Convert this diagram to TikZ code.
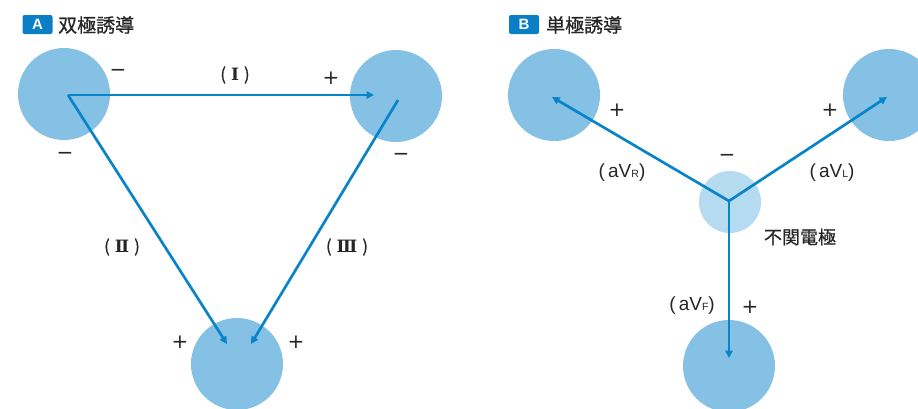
\documentclass[tikz,border=0pt]{standalone}
\usepackage{fontspec}
\setmainfont{Noto Sans CJK JP}
\newfontfamily\jp{Noto Sans CJK JP}
\newfontfamily\jpm[FakeBold=0.7]{Noto Sans CJK JP}
\newfontfamily\lat{Liberation Sans}
\newfontfamily\ser{DejaVu Serif}
\newfontfamily\sym{DejaVu Sans}
\usetikzlibrary{arrows.meta}
\definecolor{elec}{HTML}{84C1E5}
\definecolor{elecl}{HTML}{B4DBF0}
\definecolor{lead}{HTML}{0A84C9}
\definecolor{badge}{HTML}{0A7FC6}
\tikzset{
  electrode/.style={circle,fill=elec,minimum size=92pt,inner sep=0pt},
  refelec/.style={circle,fill=elecl,minimum size=62pt,inner sep=0pt},
  leadarrow/.style={draw=lead,line width=2.7pt,-{Triangle[length=7.5pt,width=7.5pt]}},
  roman/.style={font=\fontsize{17}{17}\selectfont\jpm,text=black!85,inner sep=0pt},
  lbl/.style={font=\fontsize{19}{19}\selectfont\lat,text=black!85,inner sep=0pt},
  sign/.style={font=\fontsize{20}{20}\selectfont\sym,text=black!85,inner sep=0pt},
  head/.style={font=\fontsize{19}{19}\selectfont\jpm,text=black!85,inner sep=0pt,anchor=west},
  badgebox/.style={fill=badge,rounded corners=2pt,minimum width=30pt,minimum height=19pt,inner sep=0pt,text=white,font=\fontsize{15}{15}\selectfont\bfseries\lat}
}
\newcommand{\subsc}[1]{{\fontsize{10.5}{10.5}\selectfont #1}}
\newcommand{\rn}[1]{\hspace{5pt}{\ser\bfseries #1}\hspace{5pt}}
\begin{document}
\begin{tikzpicture}[x=1pt,y=-1pt]
\useasboundingbox (0,0) rectangle (918,408);
% ---------- Panel A ----------
\node[badgebox] (ba) at (37.5,24.5) {A};
\node[head] (ha) at (58,25) {双極誘導};
\node[electrode] (ra) at (64,94) {};
\node[electrode] (la) at (396,96) {};
\node[electrode] (fa) at (237,364) {};
\coordinate (va) at (68,95);
\coordinate (vb) at (398,100);
\coordinate (tI) at (374,95);
\coordinate (tII) at (227,344);
\coordinate (tIII) at (251,344);
\draw[leadarrow] (va) -- (tI);
\draw[leadarrow] (va) -- (tII);
\draw[leadarrow] (vb) -- (tIII);
\node[sign] (s1) at (118,73) {−};
\node[sign] (s2) at (65,156) {−};
\node[roman] (lI) at (235,75) {(\rn{Ⅰ})};
\node[sign] (s3) at (331,78) {+};
\node[sign] (s4) at (401,157) {−};
\node[roman] (lII) at (122,247) {(\rn{Ⅱ})};
\node[roman] (lIII) at (347,247) {(\rn{Ⅲ})};
\node[sign] (s5) at (180,342) {+};
\node[sign] (s6) at (296,342) {+};
% ---------- Panel B ----------
\node[badgebox] (bb) at (524,24.5) {B};
\node[head] (hb) at (546,25) {単極誘導};
\node[electrode] (rb) at (554,95) {};
\node[electrode] (lb) at (889,95) {};
\node[refelec] (cb) at (730,202) {};
\node[electrode] (fb) at (729,366) {};
\coordinate (vc) at (729,201);
\coordinate (tR) at (552,97);
\coordinate (tL) at (887,97);
\coordinate (tF) at (729,358);
\draw[leadarrow] (vc) -- (tR);
\draw[leadarrow] (vc) -- (tL);
\draw[leadarrow] (vc) -- (tF);
\node[sign] (s7) at (617,110) {+};
\node[sign] (s8) at (830,110) {+};
\node[sign] (s9) at (727,158) {−};
\node[lbl] (lR) at (622,173) {(\,aV\subsc{R})};
\node[lbl] (lL) at (832,173) {(\,aV\subsc{L})};
\node[lbl,font=\fontsize{18}{18}\selectfont\jpm] (nc) at (800,237) {不関電極};
\node[lbl] (lF) at (692,306) {(\,aV\subsc{F})};
\node[sign] (s10) at (750,307) {+};
\end{tikzpicture}
\end{document}
